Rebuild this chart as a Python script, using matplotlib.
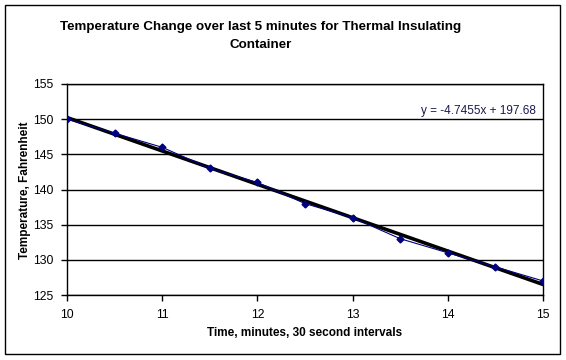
import numpy as np
import matplotlib
matplotlib.use("Agg")
from matplotlib import pyplot as plt
from matplotlib.patches import Rectangle

# readings every 30 s over the last 5 minutes
minutes = [10, 10.5, 11, 11.5, 12, 12.5, 13, 13.5, 14, 14.5, 15]
temps = [150, 148, 146, 143, 141, 138, 136, 133, 131, 129, 127]
x_ticks = [10, 11, 12, 13, 14, 15]
y_ticks = [125, 130, 135, 140, 145, 150, 155]

plt.rcParams['font.family'] = ['Liberation Sans', 'DejaVu Sans']

fig = plt.figure(figsize=(5.66, 3.60), dpi=100)
ax = fig.add_axes([67 / 566, 1 - 295 / 360, (543 - 67) / 566, (295 - 84) / 360])

# outer chart border
fig.patches.append(Rectangle((5 / 566, 6 / 360), 555 / 566, 349 / 360,
                             transform=fig.transFigure, fill=False,
                             edgecolor='black', linewidth=1))

ax.plot(minutes, temps, color='#000080', linewidth=0.8, marker='D',
        markersize=3.5, zorder=3)

# linear trendline like Excel's
slope, intercept = np.polyfit(minutes, temps, 1)
xs = np.array([minutes[0], minutes[-1]])
ax.plot(xs, slope * xs + intercept, color='black', linewidth=2.6, zorder=2)

ax.set_xlim(10, 15)
ax.set_ylim(125, 155)
ax.set_xticks(x_ticks)
ax.set_yticks(y_ticks)
ax.yaxis.grid(True, color='black', linewidth=1)
ax.set_axisbelow(True)
for s in ax.spines.values():
    s.set_linewidth(1)
ax.tick_params(direction='out', length=4, width=1, labelsize=8.8, pad=6)

ax.text(0.985, 0.87, "y = {:.4f}x + {:.2f}".format(slope, intercept),
        transform=ax.transAxes, ha='right', va='center', fontsize=8.5,
        color='#1a1a50')

fig.text(261 / 566, 1 - 36 / 360,
         "Temperature Change over last 5 minutes for Thermal Insulating\nContainer",
         ha='center', va='center', fontsize=9.6, fontweight='bold',
         linespacing=1.6)
fig.text(305 / 566, 1 - 333 / 360, "Time, minutes, 30 second intervals",
         ha='center', va='center', fontsize=8.5, fontweight='bold')
fig.text(25 / 566, 1 - 190 / 360, "Temperature, Fahrenheit", rotation=90,
         ha='center', va='center', fontsize=8.5, fontweight='bold')

fig.savefig("out.png", dpi=100)
